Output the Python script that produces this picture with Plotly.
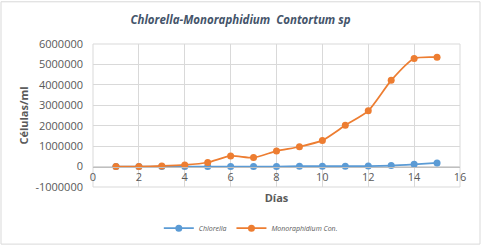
import plotly.graph_objects as go

dias = list(range(1, 16))
chlorella = [0, 0, 0, 0, 0, 0, 0, 0, 20000, 20000, 20000, 25000, 50000, 110000, 180000]
monoraphidium = [0, 0, 30000, 80000, 200000, 520000, 440000, 760000, 970000, 1280000,
                 2020000, 2730000, 4220000, 5290000, 5355000]
y_tickvals = [-1000000, 0, 1000000, 2000000, 3000000, 4000000, 5000000, 6000000]
y_ticktext = ["-1000000", "0", "1000000", "2000000", "3000000", "4000000", "5000000", "6000000"]
x_tickvals = [0, 2, 4, 6, 8, 10, 12, 14, 16]

FONT = "Open Sans"
GRAY = "#595959"

fig = go.Figure()
fig.add_trace(go.Scatter(x=dias, y=chlorella, name="<i>Chlorella</i>", mode="lines+markers",
                         line=dict(color="#5B9BD5", width=1.75, shape="spline", smoothing=0.6),
                         marker=dict(size=7, color="#5B9BD5")))
fig.add_trace(go.Scatter(x=dias, y=monoraphidium, name="<i>Monoraphidium Con.</i>", mode="lines+markers",
                         line=dict(color="#ED7D31", width=1.75, shape="spline", smoothing=0.6),
                         marker=dict(size=7, color="#ED7D31")))

L, R, T, B = 93, 21, 43.5, 58.5
W, H = 481, 246
pw, ph = W - L - R, H - T - B

fig.update_layout(
    width=W, height=H,
    margin=dict(l=L, r=R, t=T, b=B, autoexpand=False),
    paper_bgcolor="white", plot_bgcolor="white",
    font=dict(family=FONT, color=GRAY, size=11),
    title=dict(text="<b><i>Chlorella-Monoraphidium  Contortum sp</i></b>",
               x=0.5, xanchor="center", y=1 - 20 / H, yanchor="middle",
               font=dict(size=11.5, color="#44546A")),
    xaxis=dict(range=[0, 16], tickvals=x_tickvals, showgrid=True, gridcolor="#D9D9D9",
               gridwidth=1, zeroline=False, showline=True, linecolor="#BFBFBF",
               anchor="free", position=1 / 7, ticks="", automargin=False,
               tickfont=dict(size=11, color=GRAY),
               title=dict(text="<b>Días</b>", font=dict(size=11, color=GRAY), standoff=11)),
    yaxis=dict(range=[-1000000, 6000000], tickvals=y_tickvals, ticktext=y_ticktext,
               showgrid=True, gridcolor="#D9D9D9", gridwidth=1, zeroline=False,
               showline=False, ticks="", automargin=False, ticklabelstandoff=9,
               tickfont=dict(size=11, color=GRAY),
               title=dict(text="<b>Células/ml</b>", font=dict(size=11, color=GRAY), standoff=4)),
    legend=dict(orientation="h", x=0.43, xanchor="center", y=-(229 - (H - B)) / ph,
                yanchor="middle", font=dict(size=7, family=FONT, color=GRAY),
                itemwidth=30, tracegroupgap=0),
    showlegend=True,
)

# outer chart border
fig.add_shape(type="rect", xref="paper", yref="paper",
              x0=(1 - L) / pw, x1=(W - 1 - L) / pw,
              y0=(H - B - (H - 1)) / ph, y1=(H - B - 1) / ph,
              line=dict(color="#D9D9D9", width=1), layer="below")
# plot area edges
fig.add_shape(type="rect", xref="paper", yref="paper", x0=0, x1=1, y0=0, y1=1,
              line=dict(color="#D9D9D9", width=1), layer="below")

fig.write_html("out.html", config={"displayModeBar": False},
               post_script="document.body.style.margin='0';document.body.style.overflow='hidden';")
